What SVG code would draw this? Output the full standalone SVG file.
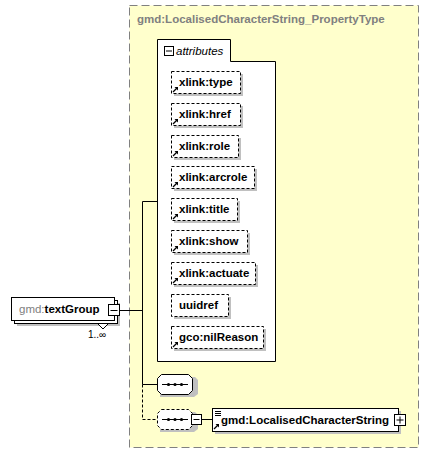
<svg xmlns="http://www.w3.org/2000/svg" width="436" height="453" viewBox="0 0 436 453">
<defs>
<style>
text{font-family:"Liberation Sans",Arial,sans-serif;font-size:11.5px;font-weight:bold;}
.t{fill:#000}
.g{fill:#808080}
.attr{fill:#fff;stroke:#000;stroke-width:1;stroke-dasharray:3,2}
.sh{fill:#c0c0c0}
.ln{stroke:#000;stroke-width:1;fill:none}
.dl{stroke:#000;stroke-width:1;fill:none;stroke-dasharray:3,2}
.box{fill:#fff;stroke:#000;stroke-width:1}
</style>
<g id="lnk">
<path d="M0,6 L4,2" stroke="#000" stroke-width="1.2"/>
<path d="M1.5,1 L5,1 L5,4.5 Z" fill="#000"/>
</g>
</defs>
<rect x="0" y="0" width="436" height="453" fill="#fff"/>
<g id="complexType">
<rect x="129.5" y="5.5" width="289" height="442" fill="#ffffcc" stroke="#808080" stroke-dasharray="8,4"/>
<text x="137" y="23" class="g">gmd:LocalisedCharacterString_PropertyType</text>
</g>
<g id="attributes">
<path d="M157.5,39.5 H230.5 V61.5 H275.5 V361.5 H157.5 Z" class="box"/>
<rect x="164.5" y="46.5" width="9" height="9" fill="#fff" stroke="#000"/>
<path d="M166,51 H172" stroke="#000"/>
<text x="176" y="55" style="font-weight:normal;font-style:italic">attributes</text>
</g>
<g id="a1"><rect x="174" y="74" width="69" height="22" class="sh"/><rect x="171.5" y="71.5" width="69" height="22" class="attr"/><use href="#lnk" x="173" y="86"/><text x="179" y="86" class="t">xlink:type</text></g>
<g id="a2"><rect x="174" y="106" width="69" height="22" class="sh"/><rect x="171.5" y="103.5" width="69" height="22" class="attr"/><use href="#lnk" x="173" y="118"/><text x="179" y="118" class="t">xlink:href</text></g>
<g id="a3"><rect x="174" y="138" width="67" height="22" class="sh"/><rect x="171.5" y="135.5" width="67" height="22" class="attr"/><use href="#lnk" x="173" y="150"/><text x="179" y="150" class="t">xlink:role</text></g>
<g id="a4"><rect x="174" y="169" width="83" height="22" class="sh"/><rect x="171.5" y="166.5" width="83" height="22" class="attr"/><use href="#lnk" x="173" y="181"/><text x="179" y="181" class="t">xlink:arcrole</text></g>
<g id="a5"><rect x="174" y="201" width="66" height="22" class="sh"/><rect x="171.5" y="198.5" width="66" height="22" class="attr"/><use href="#lnk" x="173" y="213"/><text x="179" y="213" class="t">xlink:title</text></g>
<g id="a6"><rect x="174" y="233" width="76" height="22" class="sh"/><rect x="171.5" y="230.5" width="76" height="22" class="attr"/><use href="#lnk" x="173" y="245"/><text x="179" y="245" class="t">xlink:show</text></g>
<g id="a7"><rect x="174" y="265" width="84" height="22" class="sh"/><rect x="171.5" y="262.5" width="84" height="22" class="attr"/><use href="#lnk" x="173" y="277"/><text x="179" y="277" class="t">xlink:actuate</text></g>
<g id="a8"><rect x="174" y="297" width="57" height="22" class="sh"/><rect x="171.5" y="294.5" width="57" height="22" class="attr"/><text x="179" y="309" class="t">uuidref</text></g>
<g id="a9"><rect x="174" y="329" width="92" height="22" class="sh"/><rect x="171.5" y="326.5" width="92" height="22" class="attr"/><use href="#lnk" x="173" y="341"/><text x="179" y="341" class="t">gco:nilReason</text></g>
<g id="connectors">
<path d="M120,310.5 H142.5" class="ln"/>
<path d="M142.5,201.5 V384.5 M142.5,201.5 H157 M142.5,384.5 H157" class="ln"/>
<path d="M142.5,384.5 V419.5 H157" class="dl"/>
<path d="M202,419.5 H212" class="ln"/>
</g>
<g id="textGroup">
<rect x="17" y="303" width="103" height="23" fill="#c0c0c0"/>
<rect x="14.5" y="300.5" width="103" height="23" class="box"/>
<rect x="11.5" y="297.5" width="103" height="23" class="box"/>
<path d="M98,324 L103,329 L108,324" fill="#fff" stroke="#000"/>
<text x="19" y="313" class="g" style="font-weight:normal">gmd:<tspan style="font-weight:bold;fill:#000">textGroup</tspan></text>
<rect x="108.5" y="304.5" width="11" height="11" fill="#fff" stroke="#000"/>
<path d="M110.5,310.5 H117.5" stroke="#000"/>
<text x="88" y="338" class="t" style="font-weight:normal;font-size:10px">1..∞</text>
</g>
<g id="seq1">
<path d="M160,377 H195 L198,380 V394 L194,397 H160 Z" fill="#c0c0c0"/>
<path d="M161.5,374.5 H188.5 L192.5,378.5 V390.5 L188.5,394.5 H161.5 L157.5,390.5 V378.5 Z" class="box"/>
<path d="M162,384.5 H188" stroke="#000"/>
<circle cx="168.5" cy="384.5" r="1.6"/><circle cx="175" cy="384.5" r="1.6"/><circle cx="181.5" cy="384.5" r="1.6"/>
</g>
<g id="seq2">
<path d="M160,412 H195 L198,415 V429 L194,432 H160 Z" fill="#c0c0c0"/>
<path d="M161.5,409.5 H188.5 L192.5,413.5 V425.5 L188.5,429.5 H161.5 L157.5,425.5 V413.5 Z" class="dl" style="fill:#fff"/>
<path d="M162,419.5 H188" stroke="#000"/>
<circle cx="168.5" cy="419.5" r="1.6"/><circle cx="175" cy="419.5" r="1.6"/><circle cx="181.5" cy="419.5" r="1.6"/>
<rect x="191.5" y="414.5" width="10" height="10" fill="#fff" stroke="#000"/>
<path d="M193.5,419.5 H199.5" stroke="#000"/>
</g>
<g id="LocalisedCharacterString">
<rect x="215" y="411" width="186" height="23" fill="#c0c0c0"/>
<rect x="212.5" y="408.5" width="186" height="23" class="box"/>
<path d="M215,411.5 H221 M215,413.5 H221 M215,415.5 H221" stroke="#000"/>
<use href="#lnk" x="214" y="423"/>
<text x="221" y="424" class="t">gmd:LocalisedCharacterString</text>
<rect x="394.5" y="414.5" width="11" height="11" fill="#fff" stroke="#000"/>
<path d="M396.5,420 H403.5 M400,416.5 V423.5" stroke="#000"/>
</g>
</svg>
